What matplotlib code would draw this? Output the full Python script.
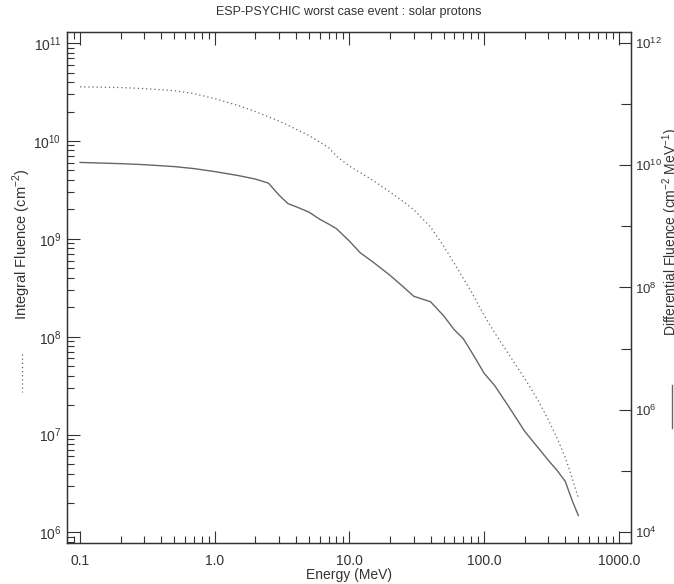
import matplotlib
matplotlib.use('Agg')
import matplotlib.pyplot as plt
from matplotlib.ticker import FixedLocator, FixedFormatter, NullFormatter
from matplotlib.lines import Line2D

plt.rcParams['font.family'] = ['Liberation Sans', 'DejaVu Sans']
plt.rcParams['mathtext.fontset'] = 'custom'
plt.rcParams['mathtext.rm'] = 'Liberation Sans'

# energy grid (MeV)
energy = [0.1, 0.2, 0.3, 0.5, 0.7, 1.0, 1.5, 2.0, 2.5, 3.0, 3.5, 4.0, 5.0, 6.0, 7.0,
          8.0, 10.0, 12.0, 15.0, 20.0, 25.0, 30.0, 40.0, 50.0, 60.0, 70.0, 80.0,
          100.0, 120.0, 150.0, 200.0, 250.0, 300.0, 350.0, 400.0, 450.0, 500.0]

# integral fluence (cm-2), left axis, dotted
integral = [3.58e10, 3.52e10, 3.43e10, 3.27e10, 3.05e10, 2.71e10, 2.30e10, 2.00e10,
            1.77e10, 1.60e10, 1.45e10, 1.32e10, 1.14e10, 9.75e9, 8.57e9, 7.01e9,
            5.54e9, 4.76e9, 3.94e9, 3.01e9, 2.41e9, 1.99e9, 1.32e9, 8.45e8, 5.60e8,
            3.94e8, 2.90e8, 1.65e8, 1.09e8, 6.82e7, 3.74e7, 2.26e7, 1.41e7, 9.02e6,
            5.83e6, 3.60e6, 2.25e6]

# differential fluence (cm-2 MeV-1), right axis, solid
differential = [1.11e10, 1.06e10, 1.02e10, 9.49e9, 8.80e9, 7.86e9, 6.76e9, 5.93e9,
                5.10e9, 3.24e9, 2.35e9, 2.10e9, 1.71e9, 1.31e9, 1.09e9, 9.17e8,
                5.72e8, 3.71e8, 2.59e8, 1.58e8, 1.03e8, 7.18e7, 5.83e7, 3.44e7,
                2.03e7, 1.45e7, 9.03e6, 3.94e6, 2.46e6, 1.18e6, 4.42e5, 2.42e5,
                1.48e5, 9.97e4, 6.71e4, 3.27e4, 1.86e4]

xticks = [0.1, 1.0, 10.0, 100.0, 1000.0]
xticklabels = ['0.1', '1.0', '10.0', '100.0', '1000.0']
left_ticks = [1e6, 1e7, 1e8, 1e9, 1e10, 1e11]
left_labels = ['$10^{6}$', '$10^{7}$', '$10^{8}$', '$10^{9}$', '$10^{10}$', '$10^{11}$']
right_ticks = [1e4, 1e6, 1e8, 1e10, 1e12]
right_labels = ['$10^{4}$', '$10^{6}$', '$10^{8}$', '$10^{10}$', '$10^{12}$']
right_minor = [1e5, 1e7, 1e9, 1e11]

ink = '#333333'
line_col = '#666666'
fs = 10

fig = plt.figure(figsize=(6.74, 5.84), dpi=100)
ax = fig.add_axes([67/674, 1 - 543/584, 564/674, 511/584])
ax.plot(energy, integral, color=line_col, lw=0.9, ls=(0, (1, 2.3)))
ax.set_xscale('log')
ax.set_yscale('log')
ax.set_xlim(0.08, 1230)
ax.set_ylim(7.8e5, 1.3e11)

ax.xaxis.set_major_locator(FixedLocator(xticks))
ax.xaxis.set_major_formatter(FixedFormatter(xticklabels))
xminor = [k * 10.0 ** e for e in range(-2, 3) for k in range(2, 10)]
ax.xaxis.set_minor_locator(FixedLocator(xminor))
ax.xaxis.set_minor_formatter(NullFormatter())
ax.yaxis.set_major_locator(FixedLocator(left_ticks))
ax.yaxis.set_major_formatter(FixedFormatter(left_labels))
yminor = [k * 10.0 ** e for e in range(5, 12) for k in range(2, 10)]
ax.yaxis.set_minor_locator(FixedLocator(yminor))
ax.yaxis.set_minor_formatter(NullFormatter())

ax.tick_params(axis='x', which='both', direction='in', top=True, bottom=True,
               colors=ink, labelsize=fs, pad=8)
ax.tick_params(axis='y', which='both', direction='in', left=True, right=False,
               colors=ink, labelsize=fs, pad=4)
ax.tick_params(which='major', length=9, width=0.8)
ax.tick_params(which='minor', length=5, width=0.8)
for s in ax.spines.values():
    s.set_color(ink)
    s.set_linewidth(0.9)

ax.set_xlabel('Energy (MeV)', fontsize=fs, color=ink, labelpad=0)
ax.set_title('ESP-PSYCHIC worst case event : solar protons', fontsize=9,
             color=ink, pad=12)

ax2 = ax.twinx()
ax2.plot(energy, differential, color=line_col, lw=1.0)
ax2.set_yscale('log')
ax2.set_ylim(6.6e3, 1.51e12)
ax2.yaxis.set_major_locator(FixedLocator(right_ticks))
ax2.yaxis.set_major_formatter(FixedFormatter(right_labels))
ax2.yaxis.set_minor_locator(FixedLocator(right_minor))
ax2.yaxis.set_minor_formatter(NullFormatter())
ax2.tick_params(axis='y', which='both', direction='in', colors=ink, labelsize=9.5, pad=3)
ax2.tick_params(which='major', length=9, width=0.8)
ax2.tick_params(which='minor', length=7, width=0.8)
for s in ax2.spines.values():
    s.set_color(ink)
    s.set_linewidth(0.9)

# axis titles with line-style keys, IDL style
fig.text(22/674, 1 - 244/584, 'Integral Fluence (cm$^{-2}$)', rotation=90,
         ha='center', va='center', fontsize=10.5, color=ink)
fig.add_artist(Line2D([22/674, 22/674], [1 - 354/584, 1 - 392/584],
                      color=line_col, lw=0.9, ls=(0, (1, 2.3))))
fig.text(671/674, 1 - 232/584, 'Differential Fluence (cm$^{-2}$ MeV$^{-1}$)',
         rotation=90, ha='center', va='center', fontsize=10, color=ink)
fig.add_artist(Line2D([672/674, 672/674], [1 - 385/584, 1 - 428/584],
                      color=line_col, lw=1.0))

fig.savefig('out.png', dpi=100)
